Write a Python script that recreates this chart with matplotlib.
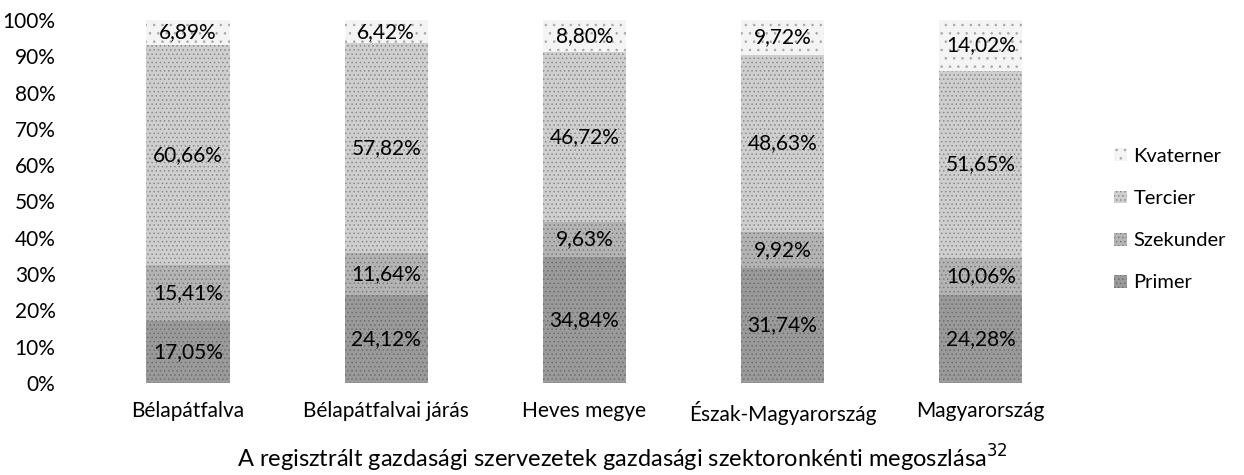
import numpy as np
import matplotlib.pyplot as plt
from matplotlib.ticker import PercentFormatter

plt.rcParams["font.family"] = ["Lato", "DejaVu Sans"]
plt.rcParams["hatch.linewidth"] = 0.6

# Data (percent shares by sector)
regions = ["Bélapátfalva", "Bélapátfalvai járás", "Heves megye", "Észak-Magyarország", "Magyarország"]
primer = [17.05, 24.12, 34.84, 31.74, 24.28]
szekunder = [15.41, 11.64, 9.63, 9.92, 10.06]
tercier = [60.66, 57.82, 46.72, 48.63, 51.65]
kvaterner = [6.89, 6.42, 8.80, 9.72, 14.02]

series = [
    ("Primer", primer, "#9a9a9a", "#6e6e6e", "...."),
    ("Szekunder", szekunder, "#b4b4b4", "#7c7c7c", "...."),
    ("Tercier", tercier, "#cfcfcf", "#8a8a8a", "...."),
    ("Kvaterner", kvaterner, "#f4f4f4", "#a8a8a8", ".."),
]

fig = plt.figure(figsize=(12.44, 4.75), dpi=100)
ax = fig.add_axes([0.0715, 0.1937, 0.7965, 0.7643])

x = np.arange(len(regions))
bottom = np.zeros(len(regions))
handles = []
for name, vals, face, edge, hatch in series:
    vals = np.array(vals)
    bars = ax.bar(x, vals, width=0.42, bottom=bottom, color=face, edgecolor=edge,
                  hatch=hatch, linewidth=0, label=name)
    handles.append(bars)
    for xi, b, v in zip(x, bottom, vals):
        ax.text(xi, b + v / 2, f"{v:.2f}%".replace(".", ","), ha="center", va="center",
                fontsize=15, color="black")
    bottom += vals

ax.set_xlim(-0.5, len(regions) - 0.5)
ax.set_ylim(0, 100)
ax.set_yticks(np.arange(0, 101, 10))
ax.yaxis.set_major_formatter(PercentFormatter(decimals=0))
ax.set_xticks(x)
ax.set_xticklabels(regions)
ax.tick_params(axis="both", length=0, labelsize=15)
ax.tick_params(axis="y", pad=24)
ax.tick_params(axis="x", pad=13)
for s in ax.spines.values():
    s.set_visible(False)

leg = ax.legend(handles[::-1], [h.get_label() for h in handles[::-1]],
                loc="center left", bbox_to_anchor=(1.035, 0.45), frameon=False,
                borderpad=0, borderaxespad=0,
                fontsize=14.5, handlelength=0.6, handleheight=0.6, handletextpad=0.35,
                labelspacing=1.25)

fig.text(0.5, 0.035, "A regisztrált gazdasági szervezetek gazdasági szektoronkénti megoszlása$^{32}$",
         ha="center", va="center", fontsize=17)

fig.savefig("out.png", dpi=100)
